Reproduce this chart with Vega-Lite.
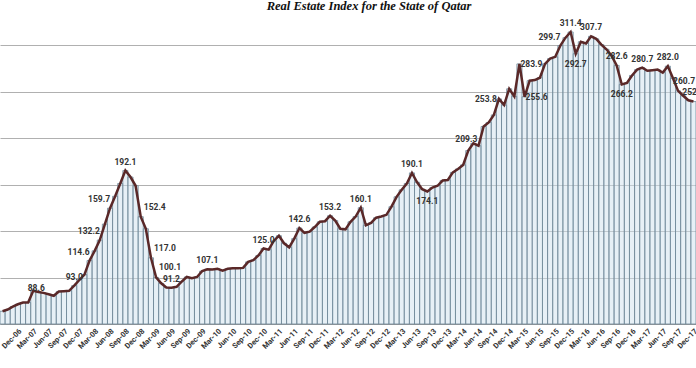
{
  "$schema": "https://vega.github.io/schema/vega-lite/v6.json",
  "width": 696,
  "height": 302,
  "autosize": {"type": "none"},
  "padding": {"left": 0, "top": 22, "right": 0, "bottom": 44},
  "background": "white",
  "title": {"text": "Real Estate Index for the State of Qatar", "font": "Liberation Serif", "fontSize": 12.5, "fontStyle": "italic", "fontWeight": "bold", "color": "#111111", "anchor": "middle", "offset": 6, "dx": 21},
  "config": {"view": {"stroke": null}},
  "data": {"values": [
    {"m": "Sep-06", "v": 71}, {"m": "Oct-06", "v": 72.5}, {"m": "Nov-06", "v": 75}, {"m": "Dec-06", "v": 77},
    {"m": "Jan-07", "v": 78.5}, {"m": "Feb-07", "v": 78.5}, {"m": "Mar-07", "v": 88.6}, {"m": "Apr-07", "v": 87.6}, {"m": "May-07", "v": 86.8}, {"m": "Jun-07", "v": 85.6}, {"m": "Jul-07", "v": 84.3}, {"m": "Aug-07", "v": 88}, {"m": "Sep-07", "v": 88.3}, {"m": "Oct-07", "v": 88.6}, {"m": "Nov-07", "v": 93.0}, {"m": "Dec-07", "v": 97.9},
    {"m": "Jan-08", "v": 102.5}, {"m": "Feb-08", "v": 114.6}, {"m": "Mar-08", "v": 123}, {"m": "Apr-08", "v": 132.2}, {"m": "May-08", "v": 146}, {"m": "Jun-08", "v": 159.7}, {"m": "Jul-08", "v": 170}, {"m": "Aug-08", "v": 181}, {"m": "Sep-08", "v": 192.1}, {"m": "Oct-08", "v": 186.5}, {"m": "Nov-08", "v": 179}, {"m": "Dec-08", "v": 152.4},
    {"m": "Jan-09", "v": 142}, {"m": "Feb-09", "v": 117.0}, {"m": "Mar-09", "v": 100.1}, {"m": "Apr-09", "v": 95}, {"m": "May-09", "v": 91.5}, {"m": "Jun-09", "v": 91.2}, {"m": "Jul-09", "v": 92}, {"m": "Aug-09", "v": 96.5}, {"m": "Sep-09", "v": 100.5}, {"m": "Oct-09", "v": 99.5}, {"m": "Nov-09", "v": 100.5}, {"m": "Dec-09", "v": 105.5},
    {"m": "Jan-10", "v": 107.1}, {"m": "Feb-10", "v": 107}, {"m": "Mar-10", "v": 107.5}, {"m": "Apr-10", "v": 106}, {"m": "May-10", "v": 107.5}, {"m": "Jun-10", "v": 108}, {"m": "Jul-10", "v": 108}, {"m": "Aug-10", "v": 108.3}, {"m": "Sep-10", "v": 113.5}, {"m": "Oct-10", "v": 115}, {"m": "Nov-10", "v": 119}, {"m": "Dec-10", "v": 125.0},
    {"m": "Jan-11", "v": 124}, {"m": "Feb-11", "v": 131.5}, {"m": "Mar-11", "v": 136}, {"m": "Apr-11", "v": 129.5}, {"m": "May-11", "v": 126}, {"m": "Jun-11", "v": 133.5}, {"m": "Jul-11", "v": 142.6}, {"m": "Aug-11", "v": 138.5}, {"m": "Sep-11", "v": 139.5}, {"m": "Oct-11", "v": 143.5}, {"m": "Nov-11", "v": 148}, {"m": "Dec-11", "v": 148.5},
    {"m": "Jan-12", "v": 153.2}, {"m": "Feb-12", "v": 149}, {"m": "Mar-12", "v": 142}, {"m": "Apr-12", "v": 141.5}, {"m": "May-12", "v": 148}, {"m": "Jun-12", "v": 152.5}, {"m": "Jul-12", "v": 160.1}, {"m": "Aug-12", "v": 145}, {"m": "Sep-12", "v": 147}, {"m": "Oct-12", "v": 151.5}, {"m": "Nov-12", "v": 152.5}, {"m": "Dec-12", "v": 154},
    {"m": "Jan-13", "v": 161}, {"m": "Feb-13", "v": 169.5}, {"m": "Mar-13", "v": 175.5}, {"m": "Apr-13", "v": 181}, {"m": "May-13", "v": 190.1}, {"m": "Jun-13", "v": 182}, {"m": "Jul-13", "v": 176}, {"m": "Aug-13", "v": 174.1}, {"m": "Sep-13", "v": 177.5}, {"m": "Oct-13", "v": 179}, {"m": "Nov-13", "v": 183.5}, {"m": "Dec-13", "v": 184},
    {"m": "Jan-14", "v": 190.5}, {"m": "Feb-14", "v": 193.5}, {"m": "Mar-14", "v": 197}, {"m": "Apr-14", "v": 209.3}, {"m": "May-14", "v": 215.5}, {"m": "Jun-14", "v": 213.5}, {"m": "Jul-14", "v": 230}, {"m": "Aug-14", "v": 233.5}, {"m": "Sep-14", "v": 240}, {"m": "Oct-14", "v": 253.8}, {"m": "Nov-14", "v": 248.5}, {"m": "Dec-14", "v": 262.5},
    {"m": "Jan-15", "v": 256}, {"m": "Feb-15", "v": 283.9}, {"m": "Mar-15", "v": 255.6}, {"m": "Apr-15", "v": 269.5}, {"m": "May-15", "v": 270}, {"m": "Jun-15", "v": 272}, {"m": "Jul-15", "v": 284}, {"m": "Aug-15", "v": 288.5}, {"m": "Sep-15", "v": 290}, {"m": "Oct-15", "v": 299.7}, {"m": "Nov-15", "v": 306.5}, {"m": "Dec-15", "v": 311.4},
    {"m": "Jan-16", "v": 292.7}, {"m": "Feb-16", "v": 303}, {"m": "Mar-16", "v": 301.5}, {"m": "Apr-16", "v": 307.7}, {"m": "May-16", "v": 305.5}, {"m": "Jun-16", "v": 300.5}, {"m": "Jul-16", "v": 296.5}, {"m": "Aug-16", "v": 291}, {"m": "Sep-16", "v": 282.6}, {"m": "Oct-16", "v": 266.2}, {"m": "Nov-16", "v": 267.5}, {"m": "Dec-16", "v": 274},
    {"m": "Jan-17", "v": 279}, {"m": "Feb-17", "v": 280.7}, {"m": "Mar-17", "v": 278}, {"m": "Apr-17", "v": 278.5}, {"m": "May-17", "v": 279}, {"m": "Jun-17", "v": 276.5}, {"m": "Jul-17", "v": 282.0}, {"m": "Aug-17", "v": 271.5}, {"m": "Sep-17", "v": 260.7}, {"m": "Oct-17", "v": 256.5}, {"m": "Nov-17", "v": 252.6}, {"m": "Dec-17", "v": 251.5}
  ]},
  "encoding": {
    "x": {
      "field": "m", "type": "ordinal",
      "scale": {
        "paddingInner": 0, "paddingOuter": 0,
        "domain": ["Sep-06","Oct-06","Nov-06","Dec-06",
          "Jan-07","Feb-07","Mar-07","Apr-07","May-07","Jun-07","Jul-07","Aug-07","Sep-07","Oct-07","Nov-07","Dec-07",
          "Jan-08","Feb-08","Mar-08","Apr-08","May-08","Jun-08","Jul-08","Aug-08","Sep-08","Oct-08","Nov-08","Dec-08",
          "Jan-09","Feb-09","Mar-09","Apr-09","May-09","Jun-09","Jul-09","Aug-09","Sep-09","Oct-09","Nov-09","Dec-09",
          "Jan-10","Feb-10","Mar-10","Apr-10","May-10","Jun-10","Jul-10","Aug-10","Sep-10","Oct-10","Nov-10","Dec-10",
          "Jan-11","Feb-11","Mar-11","Apr-11","May-11","Jun-11","Jul-11","Aug-11","Sep-11","Oct-11","Nov-11","Dec-11",
          "Jan-12","Feb-12","Mar-12","Apr-12","May-12","Jun-12","Jul-12","Aug-12","Sep-12","Oct-12","Nov-12","Dec-12",
          "Jan-13","Feb-13","Mar-13","Apr-13","May-13","Jun-13","Jul-13","Aug-13","Sep-13","Oct-13","Nov-13","Dec-13",
          "Jan-14","Feb-14","Mar-14","Apr-14","May-14","Jun-14","Jul-14","Aug-14","Sep-14","Oct-14","Nov-14","Dec-14",
          "Jan-15","Feb-15","Mar-15","Apr-15","May-15","Jun-15","Jul-15","Aug-15","Sep-15","Oct-15","Nov-15","Dec-15",
          "Jan-16","Feb-16","Mar-16","Apr-16","May-16","Jun-16","Jul-16","Aug-16","Sep-16","Oct-16","Nov-16","Dec-16",
          "Jan-17","Feb-17","Mar-17","Apr-17","May-17","Jun-17","Jul-17","Aug-17","Sep-17","Oct-17","Nov-17","Dec-17"]
      },
      "axis": {
        "title": null,
        "values": ["Dec-06","Mar-07","Jun-07","Sep-07","Dec-07","Mar-08","Jun-08","Sep-08","Dec-08","Mar-09","Jun-09","Sep-09","Dec-09","Mar-10","Jun-10","Sep-10","Dec-10","Mar-11","Jun-11","Sep-11","Dec-11","Mar-12","Jun-12","Sep-12","Dec-12","Mar-13","Jun-13","Sep-13","Dec-13","Mar-14","Jun-14","Sep-14","Dec-14","Mar-15","Jun-15","Sep-15","Dec-15","Mar-16","Jun-16","Sep-16","Dec-16","Mar-17","Jun-17","Sep-17","Dec-17"],
        "labelAngle": -45,
        "labelFont": "Roboto",
        "labelFontSize": 7.5,
        "labelFontWeight": "bold",
        "labelColor": "#333333",
        "labelPadding": 3,
        "ticks": false,
        "domain": true,
        "domainColor": "#999999",
        "grid": false
      }
    }
  },
  "layer": [
    {
      "mark": {"type": "bar", "fill": "#cfe2ee", "fillOpacity": 0.5, "stroke": "#6d8797", "strokeWidth": 0.8},
      "encoding": {
        "y": {"field": "v", "type": "quantitative", "scale": {"domain": [60, 320], "nice": false, "zero": false},
          "axis": {"title": null, "labels": false, "ticks": false, "domain": false, "grid": true, "gridColor": "#b0b0b0", "gridWidth": 1.2,
            "values": [60,70,80,90,100,110,120,130,140,150,160,170,180,190,200,210,220,230,240,250,260,270,280,290,300,310,320]}},
        "y2": {"datum": 60}
      }
    },
    {
      "mark": {"type": "line", "color": "#5a2828", "strokeWidth": 2.5},
      "encoding": {"y": {"field": "v", "type": "quantitative"}}
    },
    {
      "transform": [{"filter": {"field": "m", "oneOf": ["Nov-07","Sep-08","Jun-09","Jan-10","Dec-10","Jul-11","Jan-12","Jul-12","May-13","Dec-15","Apr-16","Sep-16","Feb-17","Jul-17"]}}],
      "mark": {"type": "text", "dy": -9, "font": "Roboto", "fontSize": 8.5, "fontWeight": "bold", "color": "#333333", "align": "center", "baseline": "middle"},
      "encoding": {"y": {"field": "v", "type": "quantitative"}, "text": {"field": "v", "type": "quantitative", "format": ".1f"}}
    },
    {
      "transform": [{"filter": {"field": "m", "oneOf": ["Apr-14"]}}],
      "mark": {"type": "text", "dx": -2, "dy": -12, "font": "Roboto", "fontSize": 8.5, "fontWeight": "bold", "color": "#333333", "align": "center", "baseline": "middle"},
      "encoding": {"y": {"field": "v", "type": "quantitative"}, "text": {"field": "v", "type": "quantitative", "format": ".1f"}}
    },
    {
      "transform": [{"filter": {"field": "m", "oneOf": ["Mar-07"]}}],
      "mark": {"type": "text", "dx": 3, "dy": -3, "font": "Roboto", "fontSize": 8.5, "fontWeight": "bold", "color": "#333333", "align": "center", "baseline": "middle"},
      "encoding": {"y": {"field": "v", "type": "quantitative"}, "text": {"field": "v", "type": "quantitative", "format": ".1f"}}
    },
    {
      "transform": [{"filter": {"field": "m", "oneOf": ["Feb-08","Apr-08","Jun-08","Oct-15"]}}],
      "mark": {"type": "text", "dx": -11, "dy": -9, "font": "Roboto", "fontSize": 8.5, "fontWeight": "bold", "color": "#333333", "align": "center", "baseline": "middle"},
      "encoding": {"y": {"field": "v", "type": "quantitative"}, "text": {"field": "v", "type": "quantitative", "format": ".1f"}}
    },
    {
      "transform": [{"filter": {"field": "m", "oneOf": ["Oct-14"]}}],
      "mark": {"type": "text", "dx": -13, "dy": 0, "font": "Roboto", "fontSize": 8.5, "fontWeight": "bold", "color": "#333333", "align": "center", "baseline": "middle"},
      "encoding": {"y": {"field": "v", "type": "quantitative"}, "text": {"field": "v", "type": "quantitative", "format": ".1f"}}
    },
    {
      "transform": [{"filter": {"field": "m", "oneOf": ["Dec-08","Feb-09","Mar-09"]}}],
      "mark": {"type": "text", "dx": 14, "dy": -10, "font": "Roboto", "fontSize": 8.5, "fontWeight": "bold", "color": "#333333", "align": "center", "baseline": "middle"},
      "encoding": {"y": {"field": "v", "type": "quantitative"}, "text": {"field": "v", "type": "quantitative", "format": ".1f"}}
    },
    {
      "transform": [{"filter": {"field": "m", "oneOf": ["Sep-17"]}}],
      "mark": {"type": "text", "dx": 6, "dy": -10, "font": "Roboto", "fontSize": 8.5, "fontWeight": "bold", "color": "#333333", "align": "center", "baseline": "middle"},
      "encoding": {"y": {"field": "v", "type": "quantitative"}, "text": {"field": "v", "type": "quantitative", "format": ".1f"}}
    },
    {
      "transform": [{"filter": {"field": "m", "oneOf": ["Nov-17"]}}],
      "mark": {"type": "text", "dx": -6, "dy": -8, "font": "Roboto", "fontSize": 8.5, "fontWeight": "bold", "color": "#333333", "align": "left", "baseline": "middle"},
      "encoding": {"y": {"field": "v", "type": "quantitative"}, "text": {"field": "v", "type": "quantitative", "format": ".1f"}}
    },
    {
      "transform": [{"filter": {"field": "m", "oneOf": ["Feb-15","Mar-15"]}}],
      "mark": {"type": "text", "dx": 12, "dy": 0, "font": "Roboto", "fontSize": 8.5, "fontWeight": "bold", "color": "#333333", "align": "center", "baseline": "middle"},
      "encoding": {"y": {"field": "v", "type": "quantitative"}, "text": {"field": "v", "type": "quantitative", "format": ".1f"}}
    },
    {
      "transform": [{"filter": {"field": "m", "oneOf": ["Aug-13","Jan-16","Oct-16"]}}],
      "mark": {"type": "text", "dy": 10, "font": "Roboto", "fontSize": 8.5, "fontWeight": "bold", "color": "#333333", "align": "center", "baseline": "middle"},
      "encoding": {"y": {"field": "v", "type": "quantitative"}, "text": {"field": "v", "type": "quantitative", "format": ".1f"}}
    }
  ]
}
